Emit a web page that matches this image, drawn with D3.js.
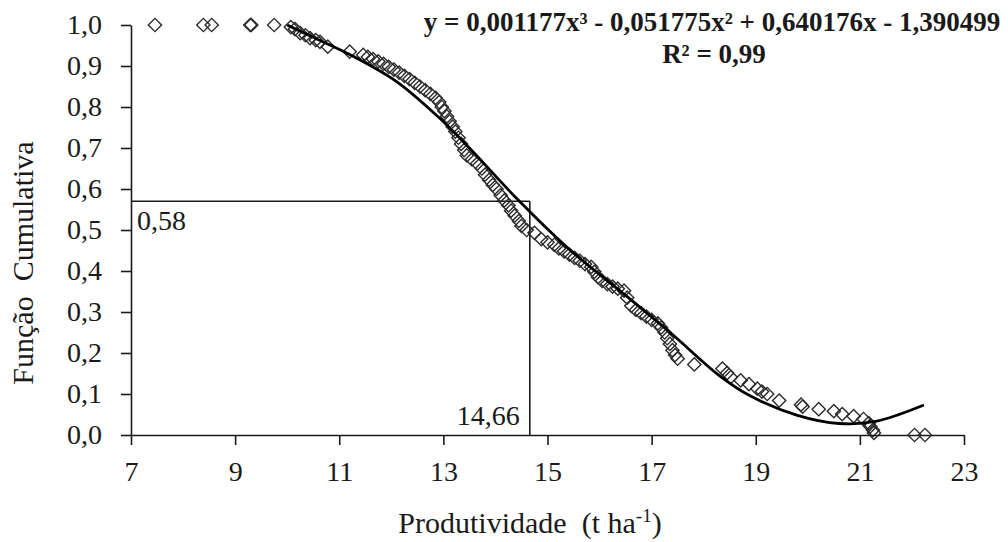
<!DOCTYPE html>
<html lang="pt">
<head>
<meta charset="UTF-8">
<title>Função Cumulativa</title>
<script src="https://d3js.org/d3.v7.min.js"></script>
<style>
  body { margin: 0; background: #fff; }
  svg text { font-family: "Liberation Serif", "Tinos", "Times New Roman", "DejaVu Serif", serif; fill: #1a1a1a; }
  .axis path, .axis line { stroke: #1a1a1a; stroke-width: 1.6; }
  .axis text { font-size: 28px; }
  .title { font-size: 30px; white-space: pre; }
</style>
</head>
<body>
<script>
// observed points: yield (t/ha) and cumulative function
const prodX = [7.46, 8.39, 8.55, 9.29, 9.31, 9.75, 10.07, 10.15, 10.25, 10.35,
  10.44, 10.55, 10.63, 10.78, 11.2, 11.46, 11.55, 11.65, 11.75, 11.85,
  11.95, 12.05, 12.15, 12.25, 12.35, 12.45, 12.55, 12.65, 12.75, 12.85,
  12.92, 12.97, 13.02, 13.07, 13.12, 13.18, 13.23, 13.29, 13.34, 13.4,
  13.45, 13.55, 13.65, 13.74, 13.8, 13.88, 13.95, 14.02, 14.1, 14.17,
  14.25, 14.3, 14.37, 14.45, 14.5, 14.6, 14.75, 14.88, 15.0, 15.13,
  15.22, 15.32, 15.42, 15.52, 15.62, 15.72, 15.84, 15.9, 15.97, 16.05,
  16.15, 16.25, 16.35, 16.47, 16.53, 16.61, 16.7, 16.8, 16.9, 17.0,
  17.12, 17.18, 17.25, 17.3, 17.35, 17.4, 17.45, 17.5, 17.82, 18.36,
  18.45, 18.52, 18.71, 18.87, 19.03, 19.12, 19.22, 19.45, 19.87, 19.9,
  20.21, 20.5, 20.66, 20.88, 21.07, 21.17, 21.2, 21.25, 21.27, 22.05, 22.25];
const cumY = [1.0, 1.0, 1.0, 1.0, 1.0, 1.0, 0.995, 0.99, 0.98, 0.975,
  0.968, 0.963, 0.959, 0.947, 0.935, 0.927, 0.922, 0.917, 0.911, 0.905,
  0.898, 0.891, 0.884, 0.876, 0.868, 0.859, 0.85, 0.841, 0.832, 0.822,
  0.812, 0.8, 0.79, 0.777, 0.765, 0.752, 0.74, 0.725, 0.71, 0.695,
  0.682, 0.672, 0.662, 0.65, 0.635, 0.622, 0.61, 0.6, 0.585, 0.572,
  0.56, 0.547, 0.535, 0.522, 0.51, 0.5, 0.493, 0.478, 0.47, 0.464,
  0.455, 0.448, 0.44, 0.432, 0.425, 0.417, 0.41, 0.398, 0.385, 0.376,
  0.368, 0.362, 0.357, 0.352, 0.335, 0.315, 0.305, 0.297, 0.289, 0.281,
  0.272, 0.262, 0.25, 0.236, 0.222, 0.207, 0.195, 0.186, 0.172, 0.162,
  0.151, 0.141, 0.133, 0.124, 0.113, 0.106, 0.1, 0.084, 0.074, 0.069,
  0.063, 0.058, 0.051, 0.046, 0.039, 0.029, 0.021, 0.012, 0.005, 0.0, 0.0];

// cubic trend line
const trendX = [10.0, 10.5, 11.2, 12.1, 12.9, 13.5, 14.4, 15.4, 16.6, 17.4, 18.3, 18.9, 19.8, 20.6, 21.3, 22.23];
const trendY = [1.0, 0.97, 0.928, 0.862, 0.776, 0.7, 0.578, 0.455, 0.33, 0.245, 0.145, 0.095, 0.048, 0.028, 0.033, 0.073];

const xTicks = [7, 9, 11, 13, 15, 17, 19, 21, 23];
const yTicks = [0, 0.1, 0.2, 0.3, 0.4, 0.5, 0.6, 0.7, 0.8, 0.9, 1.0];

// reference point on the curve
const refX = 14.66, refY = 0.57;
const refLabelY = '0,58', refLabelX = '14,66';

const equationText = 'y = 0,001177x³ - 0,051775x² + 0,640176x - 1,390499';
const r2Text = 'R² = 0,99';

const W = 1008, H = 542;
const svg = d3.select('body').append('svg')
  .attr('width', W).attr('height', H);

const x = d3.scaleLinear().domain([7, 23]).range([131, 964]);
const y = d3.scaleLinear().domain([0, 1]).range([435, 25]);

const pt = d3.formatLocale({ decimal: ',', thousands: '.', grouping: [3], currency: ['R$', ''] });
const f1 = pt.format('.1f');

// axes
svg.append('g')
  .attr('class', 'axis')
  .attr('transform', `translate(0,${y(0)})`)
  .call(d3.axisBottom(x).tickValues(xTicks).tickSize(10).tickSizeOuter(0).tickPadding(16).tickFormat(d3.format('d')));

svg.append('g')
  .attr('class', 'axis')
  .attr('transform', `translate(${x(7)},0)`)
  .call(d3.axisLeft(y).tickValues(yTicks).tickSize(10).tickSizeOuter(0).tickPadding(19).tickFormat(f1));

svg.selectAll('.axis').attr('font-family', null);

// reference lines
svg.append('line')
  .attr('x1', x(7)).attr('x2', x(refX))
  .attr('y1', y(refY)).attr('y2', y(refY))
  .attr('stroke', '#1a1a1a').attr('stroke-width', 1.6);
svg.append('line')
  .attr('x1', x(refX)).attr('x2', x(refX))
  .attr('y1', y(refY)).attr('y2', y(0))
  .attr('stroke', '#1a1a1a').attr('stroke-width', 1.6);

svg.append('text')
  .attr('x', x(7) + 6).attr('y', y(refY) + 29)
  .style('font-size', '28px')
  .text(refLabelY);
svg.append('text')
  .attr('x', x(refX) - 10).attr('y', y(0) - 10)
  .attr('text-anchor', 'end')
  .style('font-size', '28px')
  .text(refLabelX);

// points
const points = prodX.map((v, i) => ({ x: v, y: cumY[i] }));
const diamond = d3.symbol(d3.symbolSquare, 88);
svg.append('g')
  .selectAll('path')
  .data(points)
  .join('path')
  .attr('d', diamond)
  .attr('transform', d => `translate(${x(d.x)},${y(d.y)}) rotate(45)`)
  .attr('fill', 'none')
  .attr('stroke', '#2b2b2b')
  .attr('stroke-width', 1.4);

// trend line
const trend = trendX.map((v, i) => ({ x: v, y: trendY[i] }));
svg.append('path')
  .datum(trend)
  .attr('fill', 'none')
  .attr('stroke', '#000')
  .attr('stroke-width', 2.8)
  .attr('d', d3.line().x(d => x(d.x)).y(d => y(d.y)).curve(d3.curveCatmullRom.alpha(0.5)));

// equation
svg.append('text')
  .attr('x', 712).attr('y', 31)
  .attr('text-anchor', 'middle')
  .style('font-size', '27px').style('font-weight', 'bold')
  .text(equationText);
svg.append('text')
  .attr('x', 714).attr('y', 63)
  .attr('text-anchor', 'middle')
  .style('font-size', '27px').style('font-weight', 'bold')
  .text(r2Text);

// axis titles
const xt = svg.append('text')
  .attr('class', 'title')
  .attr('x', 530).attr('y', 533)
  .attr('text-anchor', 'middle');
xt.append('tspan').text('Produtividade  (t ha');
xt.append('tspan').attr('dy', -11).style('font-size', '19px').text('-1');
xt.append('tspan').attr('dy', 11).text(')');

svg.append('text')
  .attr('class', 'title')
  .attr('transform', 'translate(33,263) rotate(-90)')
  .attr('text-anchor', 'middle')
  .text('Função  Cumulativa');
</script>
</body>
</html>
